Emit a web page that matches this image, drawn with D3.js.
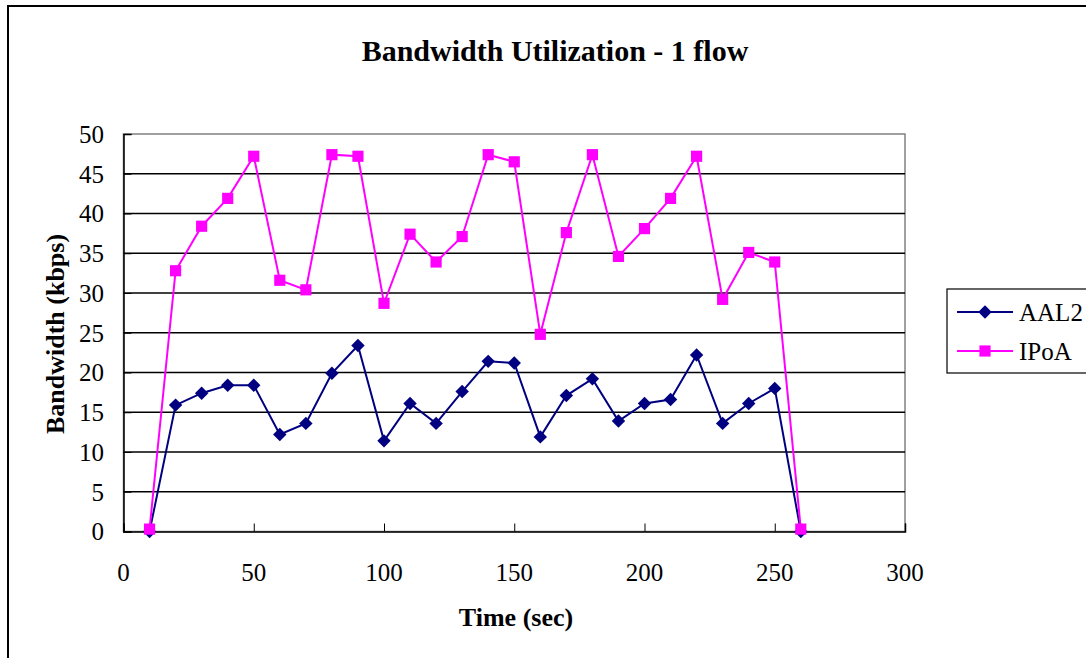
<!DOCTYPE html>
<html>
<head>
<meta charset="utf-8">
<script src="https://cdn.jsdelivr.net/npm/d3@7"></script>
<style>
  html, body { margin: 0; padding: 0; background: #fff; }
  text { font-family: "Liberation Serif", "Times New Roman", serif; fill: #000; }
</style>
</head>
<body>
<div id="chart"></div>
<script>
// data
const times = [10, 20, 30, 40, 50, 60, 70, 80, 90, 100, 110, 120, 130,
  140, 150, 160, 170, 180, 190, 200, 210, 220, 230, 240, 250, 260];
const aal2 = [0, 15.9, 17.4, 18.4, 18.4, 12.2, 13.6, 19.9, 23.4, 11.4, 16.1, 13.6, 17.6,
  21.4, 21.2, 11.9, 17.1, 19.2, 13.9, 16.1, 16.6, 22.2, 13.6, 16.1, 18.0, 0];
const ipoa = [0.3, 32.8, 38.4, 41.9, 47.2, 31.6, 30.4, 47.4, 47.2, 28.7, 37.4, 33.9, 37.1,
  47.4, 46.5, 24.8, 37.6, 47.4, 34.6, 38.1, 41.9, 47.2, 29.2, 35.1, 33.9, 0.3];
const xTicks = [0, 50, 100, 150, 200, 250, 300];
const yTicks = [0, 5, 10, 15, 20, 25, 30, 35, 40, 45, 50];
const seriesNames = ['AAL2', 'IPoA'];

const width = 1086, height = 658;
const plot = { left: 123.5, right: 905, top: 134, bottom: 531.5 };

const svg = d3.select('#chart')
  .append('svg')
  .attr('width', width)
  .attr('height', height);

// outer chart frame (runs off the right and bottom edge)
svg.append('rect')
  .attr('x', 8).attr('y', 6)
  .attr('width', 1100).attr('height', 700)
  .attr('fill', 'none')
  .attr('stroke', '#000')
  .attr('stroke-width', 2);

const x = d3.scaleLinear().domain([0, 300]).range([plot.left, plot.right]);
const y = d3.scaleLinear().domain([0, 50]).range([plot.bottom, plot.top]);

// plot area border
svg.append('rect')
  .attr('x', plot.left).attr('y', plot.top)
  .attr('width', plot.right - plot.left)
  .attr('height', plot.bottom - plot.top)
  .attr('fill', 'none')
  .attr('stroke', '#808080')
  .attr('stroke-width', 1.5);

// gridlines
svg.append('g')
  .selectAll('line')
  .data(yTicks.filter(d => d > 0 && d < 50))
  .join('line')
  .attr('x1', plot.left).attr('x2', plot.right)
  .attr('y1', d => y(d)).attr('y2', d => y(d))
  .attr('stroke', '#000')
  .attr('stroke-width', 1.6);

// axes (ticks point inwards)
const xAxis = svg.append('g')
  .attr('transform', `translate(0,${plot.bottom})`)
  .call(d3.axisTop(x).tickValues(xTicks).tickSize(8).tickFormat(''));
xAxis.select('.domain').attr('stroke', '#000').attr('stroke-width', 1.5);
xAxis.selectAll('.tick line').attr('stroke', '#000');

const yAxis = svg.append('g')
  .attr('transform', `translate(${plot.left},0)`)
  .call(d3.axisRight(y).tickValues(yTicks).tickSize(8).tickFormat(''));
yAxis.select('.domain').attr('stroke', '#000').attr('stroke-width', 1.5);
yAxis.selectAll('.tick line').attr('stroke', '#000');

// tick labels
svg.append('g')
  .selectAll('text')
  .data(xTicks)
  .join('text')
  .attr('x', d => x(d))
  .attr('y', 581)
  .attr('text-anchor', 'middle')
  .style('font-size', '25px')
  .text(d => d);

svg.append('g')
  .selectAll('text')
  .data(yTicks)
  .join('text')
  .attr('x', 104)
  .attr('y', d => y(d))
  .attr('dy', '0.35em')
  .attr('text-anchor', 'end')
  .style('font-size', '25px')
  .text(d => d);

// titles
svg.append('text')
  .attr('x', 555).attr('y', 61)
  .attr('text-anchor', 'middle')
  .style('font-size', '30px')
  .style('font-weight', 'bold')
  .text('Bandwidth Utilization - 1 flow');

svg.append('text')
  .attr('x', 516).attr('y', 626)
  .attr('text-anchor', 'middle')
  .style('font-size', '26px')
  .style('font-weight', 'bold')
  .text('Time (sec)');

svg.append('text')
  .attr('transform', 'translate(64,334) rotate(-90)')
  .attr('text-anchor', 'middle')
  .style('font-size', '26px')
  .style('font-weight', 'bold')
  .text('Bandwidth (kbps)');

// series
const line = d3.line()
  .x((d, i) => x(times[i]))
  .y(d => y(d));

const colors = ['#000080', '#FF00FF'];
const diamond = d3.symbol().type(d3.symbolSquare).size(90);
const square = d3.symbol().type(d3.symbolSquare).size(125);

svg.append('path')
  .datum(aal2)
  .attr('fill', 'none')
  .attr('stroke', colors[0])
  .attr('stroke-width', 2)
  .attr('d', line);

svg.append('g')
  .selectAll('path')
  .data(aal2)
  .join('path')
  .attr('transform', (d, i) => `translate(${x(times[i])},${y(d)}) rotate(45)`)
  .attr('d', diamond)
  .attr('fill', colors[0]);

svg.append('path')
  .datum(ipoa)
  .attr('fill', 'none')
  .attr('stroke', colors[1])
  .attr('stroke-width', 2)
  .attr('d', line);

svg.append('g')
  .selectAll('path')
  .data(ipoa)
  .join('path')
  .attr('transform', (d, i) => `translate(${x(times[i])},${y(d)})`)
  .attr('d', square)
  .attr('fill', colors[1]);

// legend
const legend = svg.append('g');
legend.append('rect')
  .attr('x', 947).attr('y', 289)
  .attr('width', 200).attr('height', 84)
  .attr('fill', '#fff')
  .attr('stroke', '#000')
  .attr('stroke-width', 1.2);

const items = legend.selectAll('g.item')
  .data(seriesNames)
  .join('g')
  .attr('class', 'item')
  .attr('transform', (d, i) => `translate(0,${312 + i * 39})`);

items.append('line')
  .attr('x1', 957).attr('x2', 1013)
  .attr('stroke', (d, i) => colors[i])
  .attr('stroke-width', 2);

items.append('path')
  .attr('transform', (d, i) => `translate(985,0)${i === 0 ? ' rotate(45)' : ''}`)
  .attr('d', (d, i) => i === 0 ? diamond() : square())
  .attr('fill', (d, i) => colors[i]);

items.append('text')
  .attr('x', 1019)
  .attr('dy', '0.35em')
  .style('font-size', '25px')
  .text(d => d);
</script>
</body>
</html>
